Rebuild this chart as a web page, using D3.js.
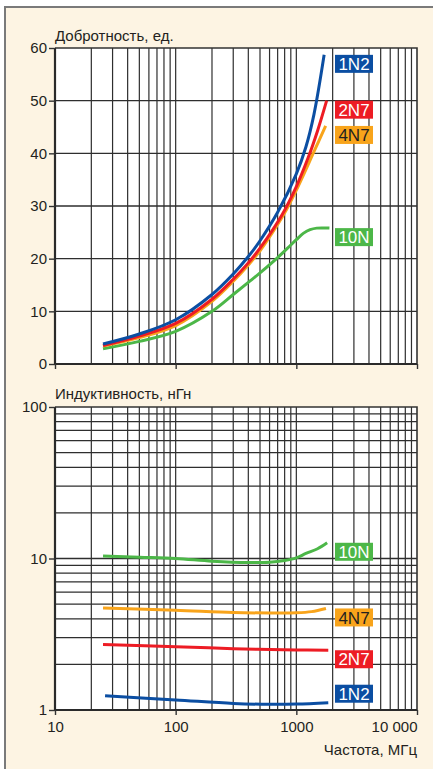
<!DOCTYPE html>
<html>
<head>
<meta charset="utf-8">
<script src="https://cdn.jsdelivr.net/npm/d3@7"></script>
<style>
  body { margin: 0; background: #fff; }
  text { font-family: "Liberation Sans", Arial, sans-serif; fill: #231f20; }
  .tag { font-family: "Liberation Sans Narrow", "Liberation Sans", Arial, sans-serif; }
</style>
</head>
<body>
<svg id="chart"></svg>
<script>
// series (names + colours)
const seriesNames = ['1N2', '2N7', '4N7', '10N'];
const seriesColors = ['#0b4ea2', '#ed1c24', '#f8a41b', '#4cb748'];
const tagTextColors = ['#fff', '#fff', '#231f20', '#fff'];

// Q factor vs frequency (MHz)
const qFreq1N2 = [25, 50, 100, 200, 300, 400, 500, 700, 1000, 1200, 1400, 1700];
const q1N2     = [3.8, 5.7, 8.4, 13.2, 17.1, 20.4, 23.4, 28.8, 36.1, 41.2, 47.4, 58.7];
const qFreq2N7 = [25, 50, 100, 200, 300, 400, 500, 764, 1000, 1250, 1500, 1783];
const q2N7     = [3.5, 5.3, 7.7, 12.3, 16.1, 19.2, 22.0, 28.4, 33.7, 39.1, 44.3, 50.0];
const qFreq4N7 = [25, 50, 100, 200, 300, 400, 500, 700, 832, 1000, 1406, 1750];
const q4N7     = [3.4, 5.0, 7.3, 11.9, 15.7, 18.8, 21.5, 26.5, 29.4, 33.0, 40.4, 45.2];
const qFreq10N = [25, 50, 100, 200, 300, 400, 500, 700, 900, 1000, 1141, 1300, 1476, 1880];
const q10N     = [2.9, 4.3, 6.2, 10.0, 13.2, 15.5, 17.3, 20.2, 22.6, 23.6, 24.8, 25.5, 25.8, 25.8];

// inductance vs frequency (MHz)
const lFreq1N2 = [26, 100, 300, 600, 1000, 1840];
const l1N2     = [1.24, 1.165, 1.105, 1.09, 1.094, 1.117];
const lFreq2N7 = [25, 100, 300, 1000, 1840];
const l2N7     = [2.71, 2.62, 2.54, 2.49, 2.48];
const lFreq4N7 = [25, 100, 300, 600, 1000, 1340, 1760];
const l4N7     = [4.71, 4.55, 4.40, 4.37, 4.38, 4.46, 4.68];
const lFreq10N = [25, 50, 100, 200, 400, 600, 800, 1000, 1200, 1500, 1800];
const l10N     = [10.4, 10.2, 10.0, 9.6, 9.4, 9.45, 9.7, 10.1, 10.8, 11.6, 12.7];

const qSeries = [[qFreq1N2, q1N2], [qFreq2N7, q2N7], [qFreq4N7, q4N7], [qFreq10N, q10N]];
const lSeries = [[lFreq1N2, l1N2], [lFreq2N7, l2N7], [lFreq4N7, l4N7], [lFreq10N, l10N]];

// axis ticks
const freqTicks = [10, 100, 1000, 10000];
const freqTickLabels = ['10', '100', '1000', '10 000'];
const qTicks = [0, 10, 20, 30, 40, 50, 60];
const lTicks = [1, 10, 100];

const W = 433, H = 769;
const left = 55, right = 417;

const svg = d3.select('#chart').attr('width', W).attr('height', H);

// cream panel with grey edge on top and left
svg.append('rect').attr('x', 5).attr('y', 7).attr('width', W - 5).attr('height', H - 7)
    .attr('fill', '#fdf4e3');
svg.append('path').attr('d', `M5,${H} V7 H${W}`)
    .attr('fill', 'none').attr('stroke', '#7a7a7a').attr('stroke-width', 2);

const x = d3.scaleLog().domain([10, 10000]).range([left, right]);
const yQ = d3.scaleLinear().domain([0, 60]).range([364, 48]);
const yL = d3.scaleLog().domain([1, 100]).range([710, 407]);

function drawPanel(y, hTicks, series, yTickValues, yFormat, title, titleY, withXLabels) {
    const [yBottom, yTop] = y.range();
    const g = svg.append('g');

    g.append('rect').attr('x', left).attr('y', yTop)
        .attr('width', right - left).attr('height', yBottom - yTop).attr('fill', '#fff');

    // grid
    const vLines = x.ticks().filter(v => v > 10 && v < 10000);
    g.append('g').selectAll('line').data(vLines).join('line')
        .attr('x1', d => x(d)).attr('x2', d => x(d))
        .attr('y1', yTop).attr('y2', yBottom)
        .attr('stroke', '#2e2e2e').attr('stroke-width', 1.2);
    g.append('g').selectAll('line').data(hTicks).join('line')
        .attr('x1', left).attr('x2', right)
        .attr('y1', d => y(d)).attr('y2', d => y(d))
        .attr('stroke', '#2e2e2e').attr('stroke-width', 1.3);

    // frame
    g.append('path').attr('d', `M${left},${yTop} H${right} V${yBottom}`)
        .attr('fill', 'none').attr('stroke', '#333').attr('stroke-width', 1.6);
    g.append('path').attr('d', `M${left},${yTop} V${yBottom} H${right}`)
        .attr('fill', 'none').attr('stroke', '#2a2a2a').attr('stroke-width', 2.2);

    // axes
    const ya = g.append('g').attr('transform', `translate(${left},0)`)
        .call(d3.axisLeft(y).tickValues(yTickValues).tickFormat(yFormat).tickSize(6).tickPadding(2));
    const xa = g.append('g').attr('transform', `translate(0,${yBottom})`)
        .call(d3.axisBottom(x).tickValues(freqTicks).tickSize(5).tickPadding(6)
            .tickFormat((d, i) => withXLabels ? freqTickLabels[i] : ''));
    [ya, xa].forEach(a => {
        a.select('.domain').remove();
        a.selectAll('line').attr('stroke', '#333').attr('stroke-width', 1.4);
        a.selectAll('text').attr('font-size', 15).attr('fill', '#231f20')
            .attr('font-family', '"Liberation Sans", Arial, sans-serif');
    });
    // last frequency label sits flush with the right edge
    xa.selectAll('text').filter(d => d === 10000).attr('text-anchor', 'end');

    g.append('text').attr('x', left).attr('y', titleY).attr('font-size', 15).text(title);

    // curves: draw green first so blue sits on top
    const line = d3.line().x(d => x(d[0])).y(d => y(d[1])).curve(d3.curveCatmullRom.alpha(0.5));
    const order = [3, 2, 1, 0];
    order.forEach(i => {
        const [fs, vs] = series[i];
        const pts = fs.map((f, k) => [f, vs[k]]);
        g.append('path').datum(pts).attr('d', line)
            .attr('fill', 'none').attr('stroke', seriesColors[i])
            .attr('stroke-width', 3).attr('stroke-linecap', 'butt');
    });

    // tags next to curve ends
    const tagW = 38, tagH = 18, tagX = 335;
    series.forEach(([fs, vs], i) => {
        let ty = y(vs[vs.length - 1]);
        if (ty + tagH > yBottom) ty -= tagH;
        g.append('rect').attr('x', tagX).attr('y', ty).attr('width', tagW).attr('height', tagH)
            .attr('fill', seriesColors[i]);
        g.append('text').attr('class', 'tag')
            .attr('x', tagX + tagW / 2).attr('y', ty + tagH / 2).attr('dy', '0.36em')
            .attr('text-anchor', 'middle').attr('font-size', 17)
            .style('fill', tagTextColors[i]).text(seriesNames[i]);
    });
}

drawPanel(yQ, [10, 20, 30, 40, 50], qSeries, qTicks, d3.format('d'),
    'Добротность, ед.', 41, false);
drawPanel(yL, yL.ticks().filter(v => v > 1 && v < 100), lSeries, lTicks, d3.format('d'),
    'Индуктивность, нГн', 399, true);

svg.append('text').attr('x', right).attr('y', 755).attr('text-anchor', 'end')
    .attr('font-size', 15).text('Частота, МГц');
</script>
</body>
</html>
